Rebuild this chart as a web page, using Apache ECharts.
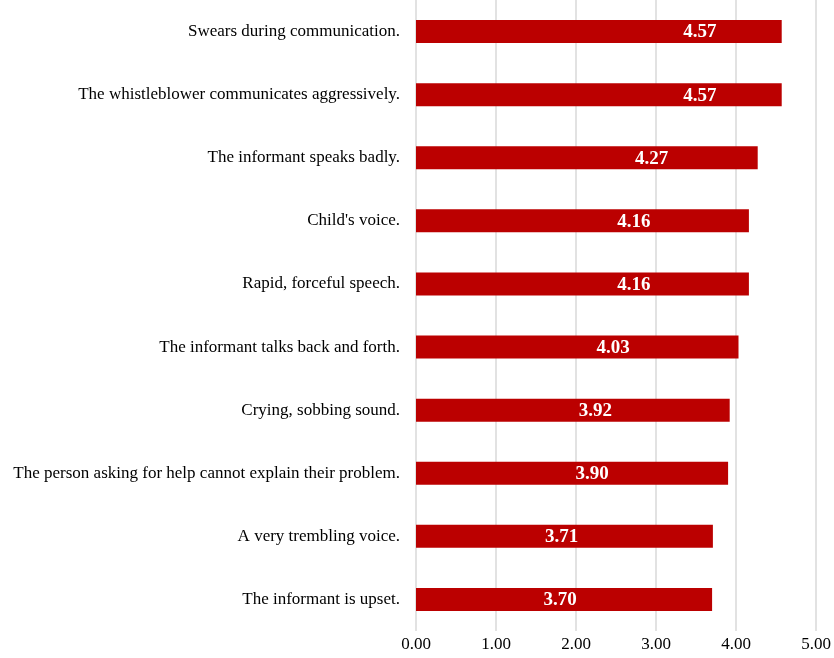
<!DOCTYPE html>
<html>
<head>
<meta charset="utf-8">
<script src="https://cdn.jsdelivr.net/npm/echarts@6/dist/echarts.min.js"></script>
<style>
  html, body { margin: 0; padding: 0; background: #fff; }
  #chart { width: 834px; height: 658px; }
</style>
</head>
<body>
<div id="chart"></div>
<script>
const categories = [
  "Swears during communication.",
  "The whistleblower communicates aggressively.",
  "The informant speaks badly.",
  "Child's voice.",
  "Rapid, forceful speech.",
  "The informant talks back and forth.",
  "Crying, sobbing sound.",
  "The person asking for help cannot explain their problem.",
  "A very trembling voice.",
  "The informant is upset.",
];
const scores = [4.57, 4.57, 4.27, 4.16, 4.16, 4.03, 3.92, 3.90, 3.71, 3.70];
const xTicks = { min: 0, max: 5, interval: 1 };

const grid = { left: 416, right: 16, top: 0, bottom: 27 };
const unitPx = (834 - grid.left - grid.right) / (xTicks.max - xTicks.min);

const chart = echarts.init(document.getElementById("chart"), null, { renderer: "canvas" });

chart.setOption({
  backgroundColor: "#fff",
  animation: false,
  textStyle: { fontFamily: '"Liberation Serif", "DejaVu Serif", serif' },
  grid: grid,
  xAxis: {
    type: "value",
    min: xTicks.min,
    max: xTicks.max,
    interval: xTicks.interval,
    axisLine: { show: false },
    axisTick: { show: false },
    axisLabel: {
      color: "#000",
      fontSize: 17,
      margin: 5,
      formatter: (v) => v.toFixed(2),
    },
    splitLine: { lineStyle: { color: "#d9d9d9", width: 1.5 } },
  },
  yAxis: {
    type: "category",
    inverse: true,
    data: categories,
    axisLine: { show: false },
    axisTick: { show: false },
    axisLabel: { color: "#000", fontSize: 17, margin: 16 },
  },
  series: [
    {
      type: "bar",
      barWidth: 23,
      itemStyle: { color: "#bb0000" },
      // labels sit a bit right of centre, further right on longer bars
      data: scores.map((v) => ({
        value: v,
        label: { offset: [unitPx * (1.5 * v - 5.6), 1] },
      })),
      label: {
        show: true,
        position: "inside",
        color: "#fff",
        fontWeight: "bold",
        fontSize: 19,
        formatter: (p) => p.value.toFixed(2),
      },
    },
  ],
});
</script>
</body>
</html>
